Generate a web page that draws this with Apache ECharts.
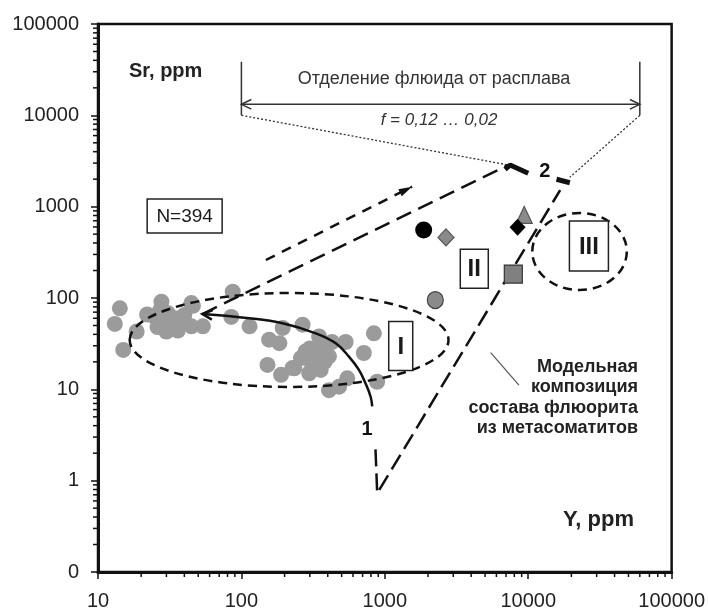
<!DOCTYPE html>
<html><head><meta charset="utf-8">
<script src="https://cdn.jsdelivr.net/npm/echarts@6/dist/echarts.min.js"></script>
<style>html,body{margin:0;padding:0;background:#fff}#c{width:708px;height:612px}</style>
</head><body><div id="c"></div>
<script>
// ---------- data ----------
const xTickLabels = ['10', '100', '1000', '10000', '100000'];
const xTickValues = [10, 100, 1000, 10000, 100000];
const yTickLabels = ['0', '1', '10', '100', '1000', '10000', '100000'];
const yTickValues = [0.1, 1, 10, 100, 1000, 10000, 100000];
const xDecades = [10, 100, 1000, 10000];
const yDecades = [0.1, 1, 10, 100, 1000, 10000];
const minorMultipliers = [2, 3, 4, 5, 6, 7, 8, 9];

// fluorite cluster (Y ppm, Sr ppm)
const clusterY  = [14.2,13.1,15.0,18.6,27.7,24.9,30.8,34.3,30.0,36.1,45.9,44.8,53.9,87,85,114,156,184,152,189,227,194,267,234,289,330,297,357,367,408,408,480,547,533,714,839,884,348,428,44.8,28,33,38,22,26,40,300,320,280,350,380,260,310,27,36];
const clusterSr = [77,52,27,43,91,62,68,60,43,51,82,49,49,117,62,49,35,32,18.5,14.4,17.1,47,51,17,26,20,15,16.3,31,23,9.8,10.7,13.2,33,25,41,12.1,38,33,88,55,52,58,66,48,65,28,24,26,27,20,22,19,72,44];

// model curve 1 (solid)
const curve1 = [[53.5,66.8],[113.6,60],[194,52.8],[330,41],[455,31.9],[562,22.8],[660,16.3],[734,11.6],[796,8.3],[817,6.5]];
// long dashed lines
const line2a = [[53.5,66.8],[7260,2860]];
const lineV  = [[861,2.2],[885,0.726],[16700,1520]];
// short dashed arrow
const arrowLine = [[148,260.7],[1549,1656]];
// thick segments near "2"
const thickA = [[6890,2563],[7470,2857],[10000,2318]];
const thickB = [[15740,1995],[19500,1829]];
// dotted guide lines
const dotLeft  = [[100,10000],[7260,2860]];
const dotRight = [[60000,10000],[19500,2095]];
// bracket
const bracketLeft  = [[100,10000],[100,38600]];
const bracketRight = [[60000,10000],[60000,38600]];
const bracketArrow = [[100,13200],[60000,13200]];
// leader line of annotation
const leader = [[5470,25.2],[8610,11.1]];

// arrowheads: [fromX, fromY, tipX, tipY, filled]
const arrowHeads = [
  [113.6,60,53.5,66.8,0],
  [1000,13200,100,13200,0],
  [6000,13200,60000,13200,0],
  [148,260.7,1549,1656,1]
];

// ellipses: [centerX, centerY, edgeX, edgeY]
const ellipses = [[215,34.7,2780,113.5],[22800,323,48700,853]];

// special markers
const blackCircle  = [[1866,555]];
const grayDiamond  = [[2670,461]];
const grayEllipse  = [[2249,95]];
const grayTriangle = [[9380,811]];
const blackDiamond = [[8430,594]];
const graySquare   = [[7870,183]];

// boxed labels
const boxCenters = [[1291,29.8],[4206,209],[26500,371],[40.2,791]];
const boxTexts = ['I','II','III','N=394'];
const curveLabels = [[753,3.59,'1'],[13060,2416,'2']];

// ---------- styles ----------
const FONT = '"Liberation Sans", Arial, Helvetica, sans-serif';
const boxSizes = [[24,49],[28,39],[39,50],[75,34]];
const boxFonts = ['bold 24px ' + FONT, 'bold 24px ' + FONT, 'bold 24px ' + FONT, '19px ' + FONT];

const xMinor = [], yMinor = [];
xDecades.forEach(d => minorMultipliers.forEach(m => xMinor.push([d * m, 0.1])));
yDecades.forEach(d => minorMultipliers.forEach(m => yMinor.push([10, d * m])));

function labelFor(values, labels) {
  return v => { const i = values.findIndex(t => Math.abs(Math.log10(t) - Math.log10(v)) < 1e-6); return i >= 0 ? labels[i] : ''; };
}
function lineSeries(data, opts) {
  return Object.assign({
    type: 'line', data: data, symbol: 'none', silent: true, animation: false, z: 3,
    lineStyle: { color: '#111', width: 2.5 }
  }, opts);
}
function scatterSeries(data, symbol, size, color, border, z) {
  return {
    type: 'scatter', data: data, symbol: symbol, symbolSize: size, animation: false, silent: true, z: z || 6,
    itemStyle: { color: color, borderColor: border || color, borderWidth: border ? 1.2 : 0, opacity: 1 }
  };
}

const chart = echarts.init(document.getElementById('c'), null, { renderer: 'canvas' });
chart.setOption({
  backgroundColor: '#fff',
  animation: false,
  grid: { left: 98, top: 24, right: 35, bottom: 40, show: true, borderColor: '#111', borderWidth: 2.5, backgroundColor: 'transparent' },
  xAxis: {
    type: 'log', logBase: 10, min: 10, max: 100000,
    axisLine: { lineStyle: { color: '#111', width: 3 } },
    axisTick: { show: true, length: 7, lineStyle: { color: '#111', width: 1.5 } },
    axisLabel: { fontSize: 20, color: '#222', fontFamily: FONT, margin: 19, formatter: labelFor(xTickValues, xTickLabels) },
    splitLine: { show: false }
  },
  yAxis: {
    type: 'log', logBase: 10, min: 0.1, max: 100000,
    axisLine: { lineStyle: { color: '#111', width: 3 } },
    axisTick: { show: true, length: 7, lineStyle: { color: '#111', width: 1.5 } },
    axisLabel: { fontSize: 20, color: '#222', fontFamily: FONT, margin: 19, formatter: labelFor(yTickValues, yTickLabels) },
    splitLine: { show: false }
  },
  series: [
    // minor ticks
    { type: 'custom', data: xMinor, clip: false, silent: true, animation: false, z: 5,
      renderItem: (p, api) => { const c = api.coord([api.value(0), api.value(1)]);
        return { type: 'line', shape: { x1: c[0], y1: c[1], x2: c[0], y2: c[1] + 5 }, style: { stroke: '#111', lineWidth: 1.5 } }; } },
    { type: 'custom', data: yMinor, clip: false, silent: true, animation: false, z: 5,
      renderItem: (p, api) => { const c = api.coord([api.value(0), api.value(1)]);
        return { type: 'line', shape: { x1: c[0], y1: c[1], x2: c[0] - 5, y2: c[1] }, style: { stroke: '#111', lineWidth: 1.5 } }; } },
    // cluster
    scatterSeries(clusterY.map((v, i) => [v, clusterSr[i]]), 'circle', 16, '#9b9b9b', null, 2),
    // ellipses
    { type: 'custom', data: ellipses, clip: false, silent: true, animation: false, z: 3,
      renderItem: (p, api) => { const c = api.coord([api.value(0), api.value(1)]); const e = api.coord([api.value(2), api.value(3)]);
        return { type: 'ellipse', shape: { cx: c[0], cy: c[1], rx: Math.abs(e[0] - c[0]), ry: Math.abs(c[1] - e[1]) },
          style: { fill: null, stroke: '#111', lineWidth: 2.5, lineDash: [9, 6] } }; } },
    // curves
    lineSeries(curve1, { smooth: 0.4, lineStyle: { color: '#111', width: 2.5 } }),
    lineSeries(line2a, { lineStyle: { color: '#111', width: 2.5, type: [16, 8] } }),
    lineSeries(lineV, { lineStyle: { color: '#111', width: 2.5, type: [17, 7] } }),
    lineSeries(arrowLine, { lineStyle: { color: '#111', width: 2.5, type: [10, 8] } }),
    lineSeries(thickA, { lineStyle: { color: '#111', width: 5 } }),
    lineSeries(thickB, { lineStyle: { color: '#111', width: 5 } }),
    lineSeries(dotLeft, { lineStyle: { color: '#333', width: 1.3, type: [2, 2] } }),
    lineSeries(dotRight, { lineStyle: { color: '#333', width: 1.3, type: [2, 2] } }),
    lineSeries(bracketLeft, { lineStyle: { color: '#333', width: 1.5 } }),
    lineSeries(bracketRight, { lineStyle: { color: '#333', width: 1.5 } }),
    lineSeries(bracketArrow, { lineStyle: { color: '#333', width: 1.5 } }),
    lineSeries(leader, { lineStyle: { color: '#555', width: 1.2 } }),
    // arrowheads
    { type: 'custom', data: arrowHeads, clip: false, silent: true, animation: false, z: 4,
      renderItem: (p, api) => {
        const p1 = api.coord([api.value(0), api.value(1)]); const p2 = api.coord([api.value(2), api.value(3)]);
        const filled = api.value(4) === 1; const a = Math.atan2(p2[1] - p1[1], p2[0] - p1[0]);
        const L = filled ? 14 : 11, s = filled ? 0.28 : 0.45;
        const a1 = [p2[0] - L * Math.cos(a - s), p2[1] - L * Math.sin(a - s)];
        const a2 = [p2[0] - L * Math.cos(a + s), p2[1] - L * Math.sin(a + s)];
        if (filled) return { type: 'polygon', shape: { points: [a1, p2, a2] }, style: { fill: '#111' } };
        return { type: 'polyline', shape: { points: [a1, p2, a2] }, style: { stroke: p.dataIndex === 0 ? '#111' : '#333', lineWidth: p.dataIndex === 0 ? 2.5 : 1.5, fill: null } };
      } },
    // markers
    scatterSeries(blackCircle, 'circle', 17, '#000'),
    scatterSeries(grayDiamond, 'diamond', [16, 17], '#8a8a8a', '#555'),
    scatterSeries(grayEllipse, 'circle', [16, 17], '#8a8a8a', '#444'),
    scatterSeries(grayTriangle, 'triangle', [16, 17], '#8a8a8a', '#555'),
    scatterSeries(blackDiamond, 'diamond', [16, 17], '#000'),
    scatterSeries(graySquare, 'rect', [18, 18], '#808080', '#333'),
    // boxed labels
    { type: 'custom', data: boxCenters, clip: false, silent: true, animation: false, z: 10,
      renderItem: (p, api) => { const c = api.coord([api.value(0), api.value(1)]); const sz = boxSizes[p.dataIndex];
        return { type: 'group', children: [
          { type: 'rect', shape: { x: c[0] - sz[0] / 2, y: c[1] - sz[1] / 2, width: sz[0], height: sz[1] }, style: { fill: '#fff', stroke: '#222', lineWidth: 1.5 } },
          { type: 'text', x: c[0], y: c[1] + 1, style: { text: boxTexts[p.dataIndex], font: boxFonts[p.dataIndex], fill: '#1a1a1a', align: 'center', verticalAlign: 'middle' } }
        ] }; } },
    // curve labels
    { type: 'custom', data: curveLabels.map(d => [d[0], d[1]]), clip: false, silent: true, animation: false, z: 10,
      renderItem: (p, api) => { const c = api.coord([api.value(0), api.value(1)]);
        return { type: 'text', x: c[0], y: c[1], style: { text: curveLabels[p.dataIndex][2], font: 'bold 20px ' + FONT, fill: '#111', align: 'center', verticalAlign: 'middle' } }; } }
  ],
  graphic: [
    { type: 'text', x: 129, y: 71, style: { text: 'Sr, ppm', font: 'bold 20px ' + FONT, fill: '#222', align: 'left', verticalAlign: 'middle' } },
    { type: 'text', x: 634, y: 520, style: { text: 'Y, ppm', font: 'bold 22px ' + FONT, fill: '#222', align: 'right', verticalAlign: 'middle' } },
    { type: 'text', x: 434, y: 79, style: { text: 'Отделение флюида от расплава', font: '18px ' + FONT, fill: '#333', align: 'center', verticalAlign: 'middle' } },
    { type: 'text', x: 439, y: 120, style: { text: 'f = 0,12 … 0,02', font: 'italic 17px ' + FONT, fill: '#333', align: 'center', verticalAlign: 'middle' } },
    { type: 'text', x: 638, y: 397.5, style: { text: 'Модельная\nкомпозиция\nсостава флюорита\nиз метасоматитов', font: 'bold 18px ' + FONT, lineHeight: 20.3, fill: '#222', align: 'right', verticalAlign: 'middle' } }
  ]
});
</script></body></html>
